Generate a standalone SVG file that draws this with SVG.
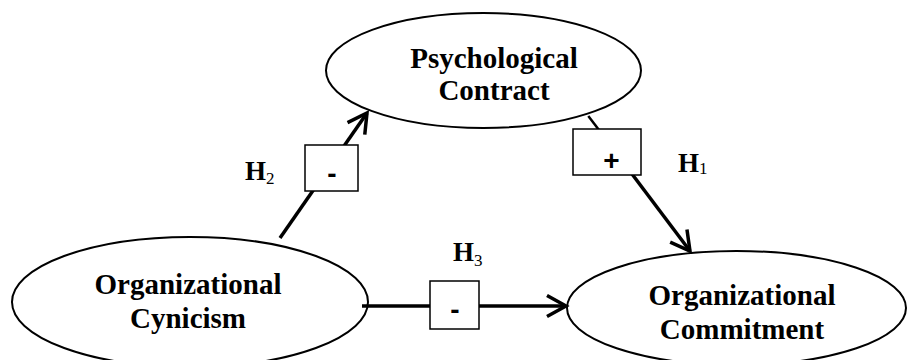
<svg xmlns="http://www.w3.org/2000/svg" width="907" height="360" viewBox="0 0 907 360">
  <style>
    .node ellipse { fill: #ffffff; stroke: #000000; stroke-width: 2; }
    .lbl { font-family: "Liberation Serif", "Times New Roman", serif; font-weight: bold; font-size: 29px; fill: #000; text-anchor: middle; }
    .h { font-family: "Liberation Serif", "Times New Roman", serif; font-weight: bold; font-size: 27px; fill: #000; }
    .sub { font-weight: normal; font-size: 17px; }
    .conn line { stroke: #000; stroke-width: 3.5; fill: none; }
    .box rect { fill: #ffffff; stroke: #000; stroke-width: 1.5; }
    .sign { font-family: "Liberation Sans", Arial, sans-serif; font-weight: bold; font-size: 28px; fill: #000; text-anchor: middle; }
  </style>
  <defs>
    <marker id="arrow" markerUnits="userSpaceOnUse" markerWidth="26" markerHeight="26" viewBox="0 0 26 26" refX="21" refY="12" orient="auto">
      <path d="M2,1.5 L21,12 L2,22.5" fill="none" stroke="#000" stroke-width="3.5" stroke-linejoin="miter"/>
    </marker>
  </defs>

  <g id="node-psychological-contract" class="node">
    <ellipse cx="483.5" cy="70.5" rx="157.5" ry="57.5"/>
    <text class="lbl" x="494" y="68">Psychological</text>
    <text class="lbl" x="494" y="100">Contract</text>
  </g>
  <g id="node-organizational-cynicism" class="node">
    <ellipse cx="190" cy="302" rx="178" ry="65"/>
    <text class="lbl" x="188" y="294">Organizational</text>
    <text class="lbl" x="188" y="328">Cynicism</text>
  </g>
  <g id="node-organizational-commitment" class="node">
    <ellipse cx="736.5" cy="308" rx="169.5" ry="57"/>
    <text class="lbl" x="742" y="305">Organizational</text>
    <text class="lbl" x="742" y="339">Commitment</text>
  </g>

  <g id="connectors" class="conn">
    <line x1="280" y1="238" x2="367" y2="113" marker-end="url(#arrow)"/>
    <line x1="588.3" y1="116" x2="599" y2="130" style="stroke-width:2.5"/>
    <line x1="632" y1="174" x2="690" y2="251" marker-end="url(#arrow)"/>
    <line x1="362" y1="306" x2="566" y2="306" marker-end="url(#arrow)"/>
  </g>

  <g id="box-h2" class="box">
    <rect x="305" y="145" width="53" height="46"/>
    <text class="sign" x="332" y="183">-</text>
  </g>
  <g id="box-h1" class="box">
    <rect x="573" y="129" width="68" height="46"/>
    <text class="sign" x="611.5" y="170">+</text>
  </g>
  <g id="box-h3" class="box">
    <rect x="430" y="281" width="49" height="48"/>
    <text class="sign" x="455" y="319">-</text>
  </g>

  <g id="labels">
    <text class="h" x="245" y="180">H<tspan class="sub" dy="4">2</tspan></text>
    <text class="h" x="678" y="172">H<tspan class="sub" dy="2">1</tspan></text>
    <text class="h" x="453" y="261">H<tspan class="sub" dy="5">3</tspan></text>
  </g>
</svg>
